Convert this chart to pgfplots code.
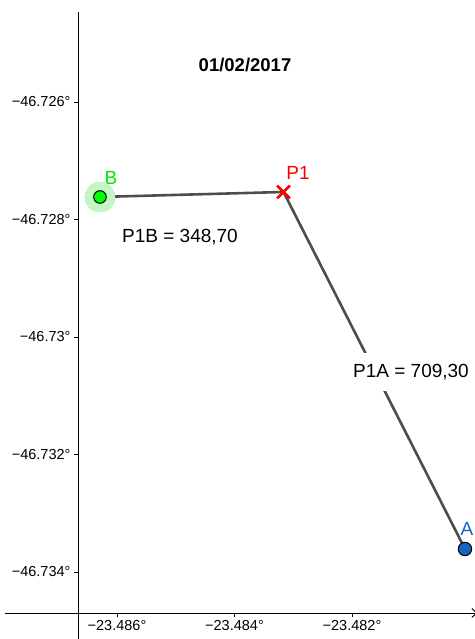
\documentclass[border=0pt]{standalone}
\usepackage{pgfplots}
\pgfplotsset{compat=1.18}
\usepackage{fontspec}
\setmainfont{Liberation Sans}
\usetikzlibrary{arrows.meta}

\definecolor{seg}{RGB}{77,77,77}
\definecolor{ptB}{RGB}{0,255,0}
\definecolor{halo}{RGB}{196,246,196}
\definecolor{lblB}{RGB}{0,230,0}
\definecolor{ptA}{RGB}{21,101,192}
\definecolor{ptP}{RGB}{255,0,0}

\begin{document}
\begin{tikzpicture}
% positions in 0.001 deg, measured from the axes crossing
% (lon -23.486664, lat -46.734698)
\begin{axis}[
    x=58.75pt, y=58.75pt,
    xmin=-1.243, xmax=6.80,
    ymin=-0.443, ymax=10.23,
    axis lines=middle,
    axis line style={black, line width=0.9pt},
    x axis line style={-{Straight Barb[length=5pt,width=9pt]}},
    y axis line style={-},
    tick align=outside,
    major tick length=4pt,
    tick style={black, line width=0.8pt},
    xtick={0.664,2.664,4.664},
    xticklabels={−23.486°,−23.484°,−23.482°},
    ytick={0.698,2.698,4.698,6.698,8.698},
    yticklabels={−46.734°,−46.732°,−46.73°,−46.728°,−46.726°},
    ticklabel style={font=\fontsize{14.5}{16}\selectfont},
    clip=false,
]
\coordinate (bl) at (axis cs:-1.328,-0.443);
\coordinate (tr) at (axis cs:6.757,10.434);

% halo round B
\addplot[halo, only marks, mark=*, mark size=15pt,
    mark options={halo, line width=0pt}] coordinates {(0.374,7.081)};
% segments B-P1-A
\addplot[seg, line width=2.6pt] coordinates {(0.374,7.081) (3.498,7.166) (6.587,1.089)};
% points
\addplot[only marks, mark=*, mark size=6.3pt,
    mark options={fill=ptB, draw=black, line width=1pt}] coordinates {(0.374,7.081)};
\addplot[only marks, mark=x, mark size=9pt,
    mark options={draw=ptP, line width=2.6pt}] coordinates {(3.498,7.166)};
\addplot[only marks, mark=*, mark size=6.7pt,
    mark options={fill=ptA, draw=black, line width=1pt}] coordinates {(6.587,1.089)};

\node[font=\bfseries\fontsize{18.5}{20}\selectfont] at (axis cs:2.843,9.328) {01/02/2017};
\node[text=lblB, font=\fontsize{19}{20}\selectfont] at (axis cs:0.562,7.404) {B};
\node[text=ptP, font=\fontsize{19}{20}\selectfont] at (axis cs:3.745,7.489) {P1};
\node[text=ptA, font=\fontsize{19}{20}\selectfont] at (axis cs:6.621,1.43) {A};
\node[font=\fontsize{19}{20}\selectfont] at (axis cs:1.736,6.40) {P1B = 348,70};
\node[font=\fontsize{19}{20}\selectfont, fill=white, inner xsep=2pt, inner ysep=11pt]
    at (axis cs:5.668,4.102) {P1A = 709,30};
\end{axis}
\pgfresetboundingbox
\useasboundingbox (bl) rectangle (tr);
\end{tikzpicture}
\end{document}
